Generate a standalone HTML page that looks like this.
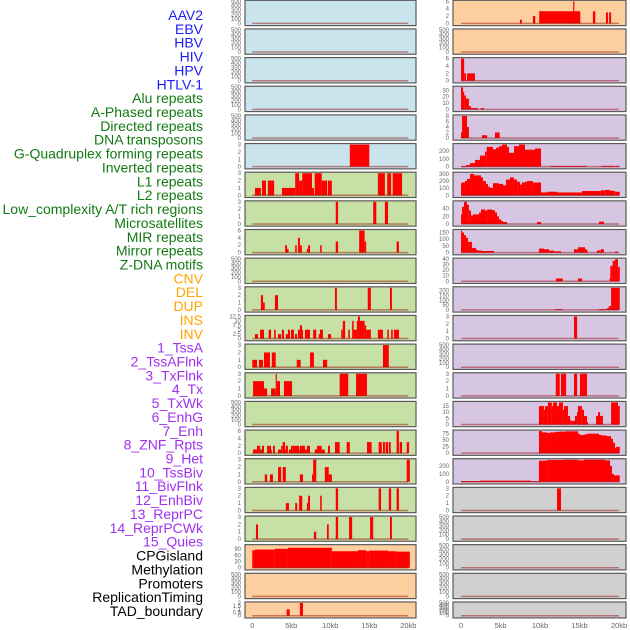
<!DOCTYPE html>
<html><head><meta charset="utf-8">
<style>
html,body{margin:0;padding:0;background:#fff;width:630px;height:630px;overflow:hidden}
svg{display:block}
</style></head>
<body>
<svg id="chart" width="630" height="630" xmlns="http://www.w3.org/2000/svg"></svg>
<script>
const trackLabels = ["AAV2","EBV","HBV","HIV","HPV","HTLV-1","Alu repeats","A-Phased repeats","Directed repeats","DNA transposons","G-Quadruplex forming repeats","Inverted repeats","L1 repeats","L2 repeats","Low_complexity A/T rich regions","Microsatellites","MIR repeats","Mirror repeats","Z-DNA motifs","CNV","DEL","DUP","INS","INV","1_TssA","2_TssAFlnk","3_TxFlnk","4_Tx","5_TxWk","6_EnhG","7_Enh","8_ZNF_Rpts","9_Het","10_TssBiv","11_BivFlnk","12_EnhBiv","13_ReprPC","14_ReprPCWk","15_Quies","CPGisland","Methylation","Promoters","ReplicationTiming","TAD_boundary"];
const labelGroups = ["v","v","v","v","v","v","r","r","r","r","r","r","r","r","r","r","r","r","r","s","s","s","s","s","c","c","c","c","c","c","c","c","c","c","c","c","c","c","c","o","o","o","o","o"];
const xTickValues = [0,5,10,15,20];
const xTickLabels = ["0","5kb","10kb","15kb","20kb"];
const leftBg = ["b","b","b","b","b","b","g","g","g","g","g","g","g","g","g","g","g","g","g","o","o","o"];
const rightBg = ["o","o","p","p","p","p","p","p","p","p","p","p","p","p","p","p","p","x","x","x","x","x"];
const leftMax = [500,500,500,500,500,3,3,3,6,500,3,12.5,3,3,500,6,3,3,3,107,500,2];
const rightMax = [6,500,6,35,8,280,310,58,165,40,230,3,500,3,18,85,278,3,500,500,500,500];
const leftTicks = [[0,100,200,300,400,500],[0,100,200,300,400,500],[0,100,200,300,400,500],[0,100,200,300,400,500],[0,100,200,300,400,500],[0,1,2,3],[0,1,2,3],[0,1,2,3],[0,2,4,6],[0,100,200,300,400,500],[0,1,2,3],[0,2.5,5,7.5,10,12.5],[0,1,2,3],[0,1,2,3],[0,100,200,300,400,500],[0,2,4,6],[0,1,2,3],[0,1,2,3],[0,1,2,3],[0,30,60,90],[0,100,200,300,400,500],[0,0.5,1,1.5,2]];
const rightTicks = [[0,2,4,6],[0,100,200,300,400,500],[0,2,4,6],[0,10,20,30],[0,2,4,6,8],[0,100,200],[0,100,200,300],[0,20,40],[0,50,100,150],[0,10,20,30,40],[0,50,100,150,200],[0,1,2,3],[0,100,200,300,400,500],[0,1,2,3],[0,5,10,15],[0,25,50,75],[0,100,200],[0,1,2,3],[0,100,200,300,400,500],[0,100,200,300,400,500],[0,100,200,300,400,500],[0,100,200,300,400,500]];
// segments: [startKb, endKb, value]
const L6 = [[12.5,15.0,3]];
const L7 = [[0.34,1.1,1],[1.24,1.75,2],[2.0,2.8,2],[3.8,5.5,1],[5.5,6.0,3],[6.0,6.4,2],[6.4,7.65,3],[7.65,7.9,1],[8.0,8.9,3],[8.9,9.6,2],[9.7,10.2,2],[16.1,17.0,3],[17.3,17.8,3],[18.0,19.2,3]];
const L8 = [[10.7,11.0,3],[15.5,15.9,3],[17.0,17.4,3]];
const L9 = [[4.2,4.45,2],[4.45,4.65,1],[5.5,5.7,2],[5.85,6.1,4],[6.1,6.35,2],[7.0,7.15,1],[7.15,7.4,2],[8.7,8.9,2],[10.7,11.0,3],[13.7,14.4,6],[14.4,14.6,3],[18.5,18.8,3]];
const L11 = [[1.1,1.37,2],[1.37,1.6,1],[2.9,3.3,2],[10.6,10.85,3],[14.8,15.2,3],[17.65,17.9,3]];
const L12 = [[0.34,0.73,2.5],[1.0,1.5,5],[2.1,2.4,5],[2.8,3.0,5],[3.3,3.7,2.5],[3.8,4.06,5],[4.3,4.57,2.5],[4.57,4.83,5],[4.96,5.34,5],[5.47,5.73,2.5],[5.85,6.1,5],[6.1,6.37,7.5],[6.37,6.5,5],[6.75,7.4,5],[7.8,8.2,5],[8.5,8.67,2.5],[8.67,9.06,5],[9.7,10.1,2.5],[11.4,11.6,5],[11.6,11.9,10],[12.3,12.5,5],[12.8,13.0,10],[13.0,13.4,5],[13.4,13.55,10],[13.55,13.8,14],[13.8,14.4,10],[14.4,14.6,7.5],[14.6,15.2,5],[16.1,16.75,5],[17.3,17.5,5],[17.8,18.0,5],[18.15,18.8,5]];
const L13 = [[0.0,0.6,1],[0.85,1.37,1],[1.5,2.26,2],[2.5,3.0,2],[5.7,6.2,1],[7.4,7.9,2],[9.06,9.6,1],[16.75,17.5,3]];
const L14 = [[0.1,1.5,2],[1.5,1.9,1],[2.4,3.0,1],[3.0,3.15,3],[3.15,3.55,2],[4.06,5.1,2],[11.2,12.3,3],[13.3,14.7,3]];
const L16 = [[0.1,0.6,1],[0.6,1.0,2],[1.0,1.24,1],[1.24,1.5,2],[1.9,2.4,2],[2.4,2.5,1],[2.65,2.9,2],[3.3,3.7,1],[3.7,3.9,2],[3.9,4.2,3],[4.2,4.3,1],[4.3,4.57,2],[4.7,4.96,1],[4.96,5.2,2],[5.2,6.0,2],[6.0,6.1,1],[6.1,6.75,2],[6.75,7.0,1],[7.0,7.4,2],[8.0,8.3,1],[8.3,8.9,2],[8.9,9.3,1],[9.7,9.96,2],[10.6,11.2,3],[12.1,12.5,3],[14.7,15.3,3],[16.2,16.6,3],[16.75,17.0,3],[17.1,17.4,3],[17.5,17.75,3],[18.5,18.8,6],[18.9,19.2,3],[19.8,20.1,3]];
const L17 = [[1.6,1.9,1],[2.26,2.65,1],[3.3,3.7,2],[3.9,4.3,2],[6.1,6.5,1],[7.65,7.8,1],[7.8,8.2,3],[9.3,9.8,2],[9.8,10.2,1],[19.8,20.2,3]];
const L18 = [[4.3,4.7,1],[5.5,5.75,1],[6.0,6.4,2],[7.0,7.15,1],[7.15,7.4,2],[8.7,8.9,2],[10.7,11.0,3],[16.2,16.5,3],[17.5,17.8,3],[18.5,18.8,3]];
const L19 = [[0.47,0.73,2],[7.9,8.2,1],[9.57,9.8,2],[10.7,11.0,3],[12.4,12.8,3],[15.1,15.5,3],[17.65,17.9,3]];
const L20 = [[0,0.34,85],[0.34,2.9,88],[2.9,4.57,92],[4.57,10.2,97],[10.2,13.55,80],[13.55,14.6,85],[14.6,15.0,80],[15.0,17.4,83],[17.4,18.5,80],[18.5,20.2,78]];
const L22 = [[4.4,4.8,1],[6.1,6.5,2]];
const R1 = [[7.47,7.7,1],[9.1,9.4,2],[9.9,15.1,3.3],[14.2,14.35,6],[16.7,17.0,3.3],[18.35,18.6,3],[18.75,19.0,3]];
const R3 = [[0,0.4,6],[0.4,0.63,2],[0.76,1.77,2]];
const R4 = [[0,0.25,35],[0.25,0.4,28],[0.4,0.63,22],[0.63,1.0,17],[1.0,1.27,5],[1.27,1.5,2],[1.5,2.15,2],[2.5,2.9,2]];
const R5 = [[0,0.13,2],[0.13,0.76,8],[0.76,1.0,4],[2.66,3.3,1],[4.3,4.9,2]];
const R6 = [[0,0.63,8],[0.63,1.14,20],[1.14,1.77,45],[1.77,2.4,85],[2.4,3.04,140],[3.04,3.25,190],[3.25,4.05,250],[4.05,4.43,220],[4.43,4.81,240],[4.81,5.19,260],[5.19,5.82,280],[5.82,6.08,250],[6.08,6.71,175],[6.71,7.34,260],[7.34,8.1,280],[8.1,8.99,215],[8.99,9.37,215],[9.37,10.13,230],[11.3,15.9,10],[17.8,19.5,10],[19.6,20.1,10]];
const R7 = [[0,0.13,170],[0.13,0.5,180],[0.5,0.76,200],[0.76,1.14,230],[1.14,1.65,300],[1.65,2.53,280],[2.53,2.78,250],[2.78,3.16,200],[3.16,3.42,160],[3.42,3.67,120],[3.67,4.05,105],[4.05,4.81,170],[4.81,5.32,160],[5.32,5.7,140],[5.7,6.2,220],[6.2,6.7,250],[6.7,7.1,220],[7.1,7.47,190],[7.47,7.72,150],[7.72,8.1,180],[8.1,8.35,190],[8.35,9.1,200],[9.1,10.13,180],[10.13,10.9,40],[10.9,12.15,50],[12.15,15.3,40],[15.3,17.7,60],[17.7,18.2,70],[18.2,18.86,75],[18.86,19.4,65],[19.4,19.6,55],[19.6,20.1,50]];
const R8 = [[0,0.13,25],[0.13,0.38,45],[0.38,0.76,58],[0.76,1.0,50],[1.0,1.27,35],[1.27,1.52,22],[1.52,2.28,25],[2.28,2.53,30],[2.53,3.04,38],[3.04,3.3,35],[3.3,3.92,38],[3.92,4.3,36],[4.3,4.56,30],[4.56,4.81,20],[4.81,5.06,12],[5.06,5.32,8],[5.32,5.82,5],[9.62,10.13,5],[17.47,18.1,6]];
const R9 = [[0,0.13,165],[0.13,0.38,150],[0.38,0.63,130],[0.63,0.89,110],[0.89,1.39,80],[1.39,1.9,35],[1.9,2.15,20],[2.15,2.66,15],[2.66,4.18,12],[9.87,10.5,30],[10.5,11.14,25],[11.14,11.77,15],[11.77,12.66,10],[14.3,14.8,25],[14.8,15.7,40],[15.7,15.95,25],[15.95,16.08,10],[17.2,17.7,15],[17.7,18.1,25],[19.5,19.87,8]];
const R10 = [[12.0,12.9,5],[14.8,15.3,5],[18.8,18.9,5],[18.9,19.2,28],[19.2,19.5,37],[19.5,19.87,40],[19.87,20.1,26]];
const R11 = [[11.9,12.9,8],[17.47,18.5,8],[18.5,18.7,20],[18.7,19.0,40],[19.0,20.1,230]];
const R12 = [[14.3,14.7,3]];
const R14 = [[12.0,12.5,3],[12.66,13.3,3],[14.3,14.7,3],[15.06,15.95,3]];
const R15 = [[9.87,10.5,15],[10.5,10.63,12],[10.63,11.0,15],[11.0,11.5,18],[11.5,11.65,15],[11.65,12.15,18],[12.15,12.4,15],[12.4,12.9,18],[12.9,13.04,12],[13.04,13.54,15],[13.54,13.8,7],[13.8,13.9,4],[13.9,14.43,3],[14.43,14.68,7],[14.68,14.8,10],[14.8,15.3,15],[15.3,15.57,12],[15.57,15.95,7],[15.95,16.08,2],[17.1,17.34,7],[17.34,17.6,10],[17.6,17.97,7],[19.0,19.87,18],[19.87,20.1,15]];
const R16 = [[9.87,10.25,85],[10.25,10.88,80],[10.88,11.27,78],[11.27,11.9,80],[11.9,12.53,82],[12.53,13.29,83],[13.29,14.81,84],[14.81,15.06,75],[15.06,15.57,70],[15.57,15.95,72],[15.95,17.47,75],[17.47,17.85,70],[17.85,18.48,68],[18.48,18.99,65],[18.99,19.24,55],[19.24,19.49,40],[19.49,19.62,20],[19.62,20.1,24]];
const R17 = [[0,2.4,10],[2.4,8.86,15],[8.86,9.87,8],[9.87,10.9,265],[10.9,13.04,275],[13.04,14.81,278],[14.81,15.57,270],[15.57,18.23,278],[18.23,18.86,270],[18.86,19.11,200],[19.11,19.37,100],[19.37,20.1,80]];
const R18 = [[12.15,12.66,3]];
const leftSegs = [[],[],[],[],[],L6,L7,L8,L9,[],L11,L12,L13,L14,[],L16,L17,L18,L19,L20,[],L22];
const rightSegs = [R1,[],R3,R4,R5,R6,R7,R8,R9,R10,R11,R12,[],R14,R15,R16,R17,R18,[],[],[],[]];

const NS = "http://www.w3.org/2000/svg";
const svg = document.getElementById("chart");
const bgColors = {b:"#c9e4ec",g:"#c7e0a5",o:"#fdcf9f",p:"#d6c6e2",x:"#d0d0d0"};
const labelColors = {v:"#1c1cf5",r:"#137a13",s:"#ffa500",c:"#a030f0",o:"#000000"};
function mk(tag, attrs){const e=document.createElementNS(NS,tag);for(const k in attrs)e.setAttribute(k,attrs[k]);svg.appendChild(e);return e;}

// labels
trackLabels.forEach((t,i)=>{
  const e = mk("text",{x:203,y:(15+i*13.86+5).toFixed(1),"text-anchor":"end","font-size":"14","font-family":"Liberation Sans, sans-serif",fill:labelColors[labelGroups[i]]});
  e.textContent = t;
  
  
});

const cols = [
  {x:245,w:171,x0:252.3,s:7.8,bg:leftBg,max:leftMax,ticks:leftTicks,segs:leftSegs,side:"left"},
  {x:453,w:173,x0:461,s:7.9,bg:rightBg,max:rightMax,ticks:rightTicks,segs:rightSegs,side:"right"}
];
cols.forEach(c=>{
  const xs = kb=>c.x0+kb*c.s;
  for(let i=0;i<22;i++){
    const top = 0.3+28.65*i;
    const h = i===21?16:25.3;
    const r = mk("rect",{x:c.x,y:top,width:c.w,height:h,fill:bgColors[c.bg[i]],stroke:"#5a5a5a","stroke-width":"1.2"});
    
    
    const yb = top+h-2.2, yt = top+1;
    const ys = v=>yb-(v/c.max[i])*(yb-yt);
    c.segs[i].forEach(sg=>{
      const y = Math.max(yt, ys(sg[2]));
      const b = mk("rect",{x:xs(sg[0]).toFixed(2),y:y.toFixed(2),width:Math.max(0.8,(sg[1]-sg[0])*c.s).toFixed(2),height:(yb-y).toFixed(2),fill:"#ff0000"});
      
      
    });
    const bl = mk("line",{x1:xs(0),x2:xs(20),y1:yb,y2:yb,stroke:"rgba(150,0,0,0.45)","stroke-width":"1.5"});
    
    
    c.ticks[i].forEach(tv=>{
      const tt = mk("text",{x:c.x-4,y:(ys(tv)+2).toFixed(1),"text-anchor":"end","font-size":"6","font-family":"Liberation Sans, sans-serif",fill:"#666"});
      tt.textContent = String(tv);
      
      
    });
  }
  xTickValues.forEach((v,k)=>{
    const t = mk("text",{x:xs(v).toFixed(1),y:628,"text-anchor":"middle","font-size":"7.5","font-family":"Liberation Sans, sans-serif",fill:"#666"});
    t.textContent = xTickLabels[k];
    
    
  });
});
</script>
</body></html>
